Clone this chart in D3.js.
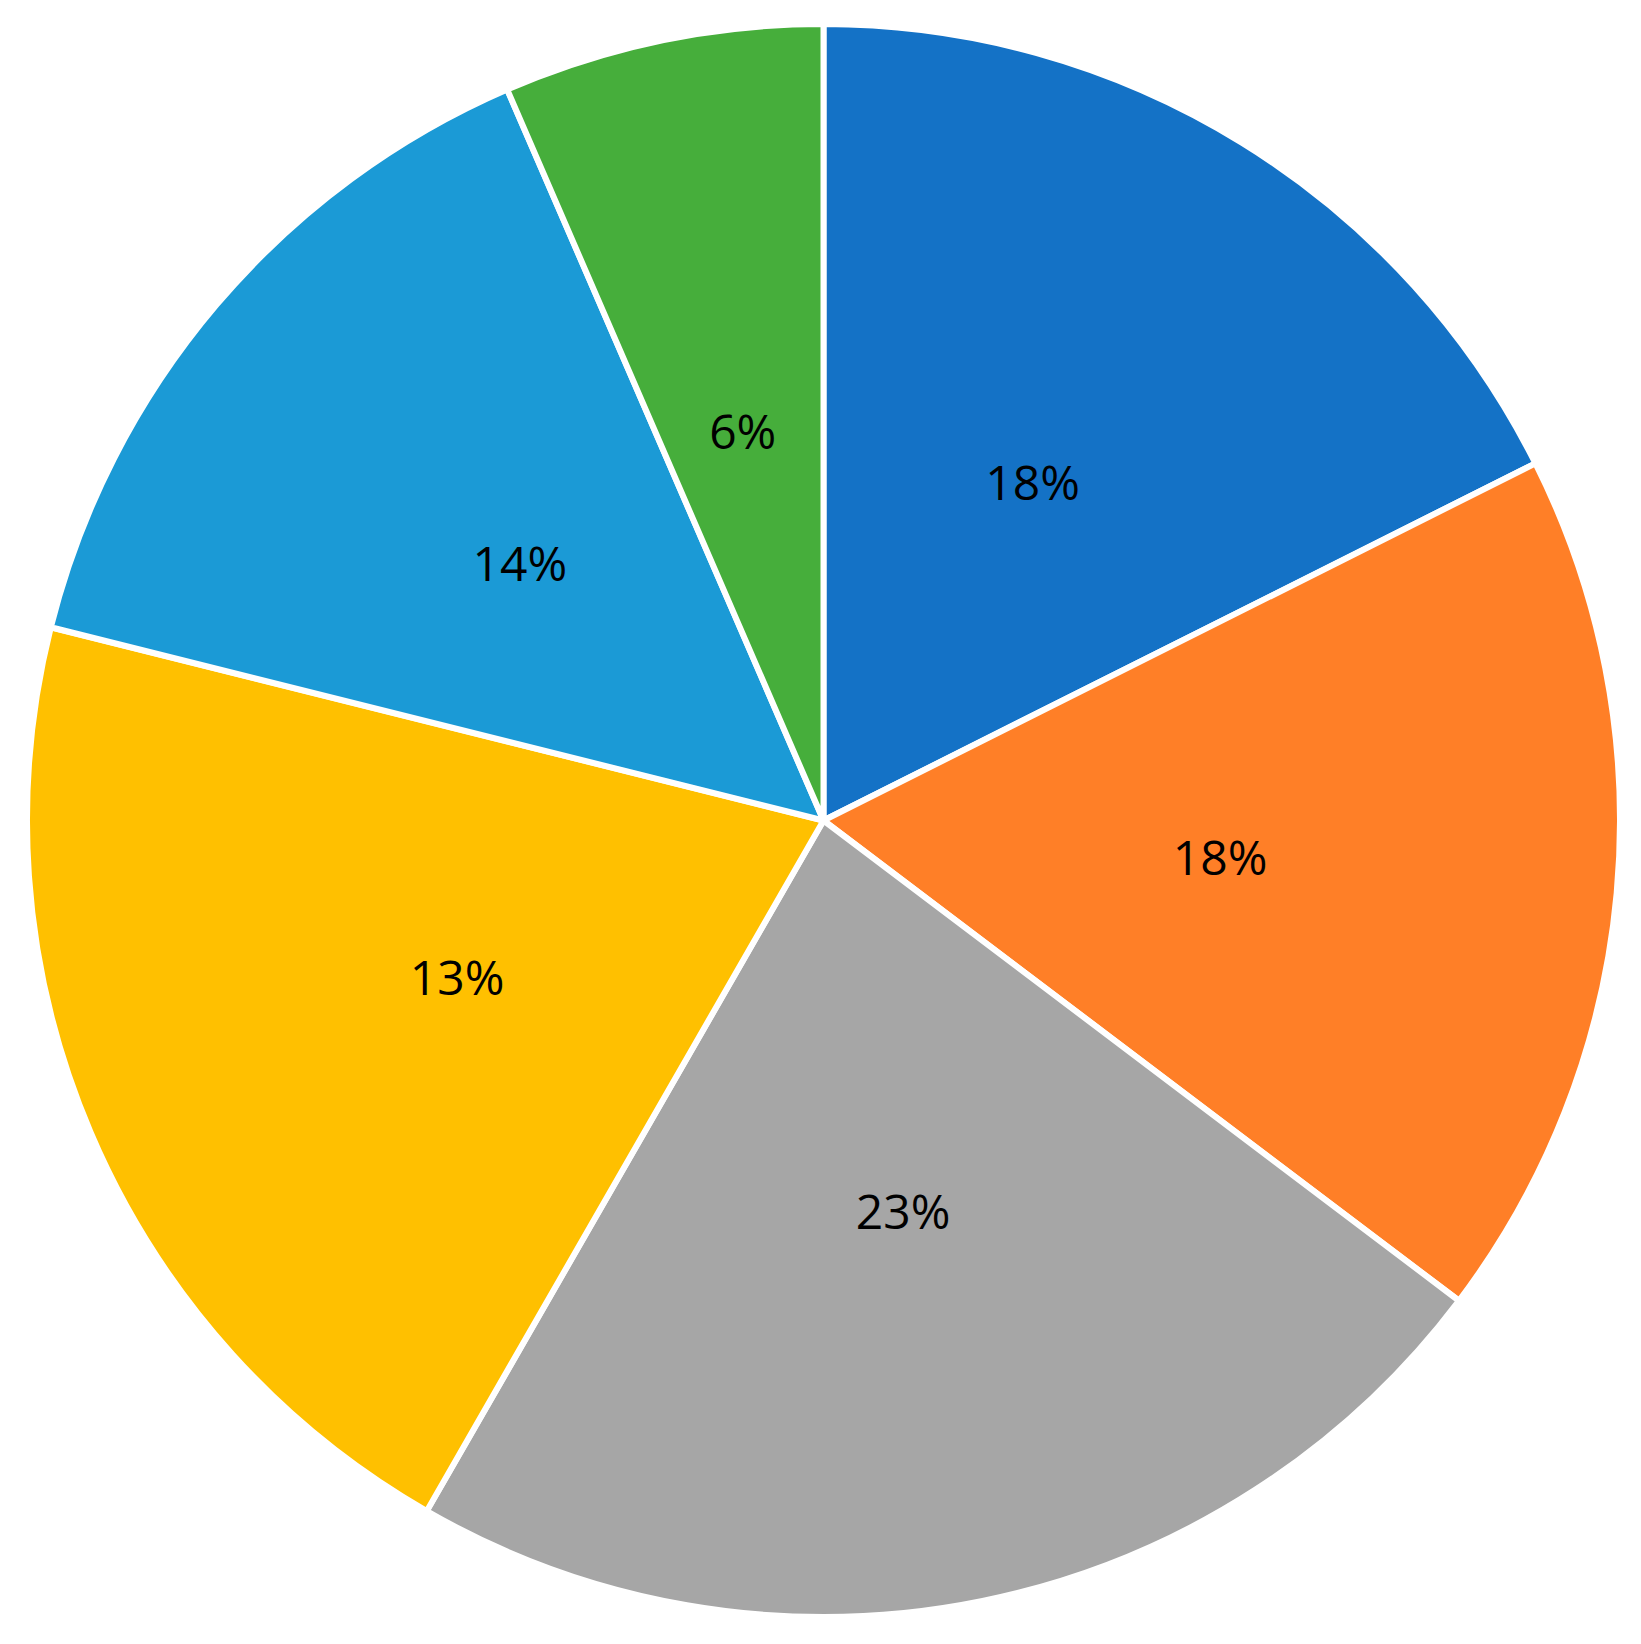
<!DOCTYPE html>
<html>
<head>
<meta charset="utf-8">
<script src="https://cdn.jsdelivr.net/npm/d3@7"></script>
<style>
  html, body { margin: 0; padding: 0; background: #ffffff; }
  svg { display: block; }
</style>
</head>
<body>
<svg id="chart" width="1641" height="1644"></svg>
<script>
// Slice shares as drawn (angle shares)
const categories = ["A", "B", "C", "D", "E", "F"];
const values = [17.6, 17.7, 23.0, 20.6, 14.6, 6.5];
// Printed data labels as shown in the reference
const labels = ["18%", "18%", "23%", "13%", "14%", "6%"];
const colors = ["#1472C6", "#FF7F27", "#A6A6A6", "#FFC000", "#1B9AD6", "#46AE3B"];

const W = 1641, H = 1644;
const cx = 823.5, cy = 820.5, R = 796.5;

const svg = d3.select("#chart");
const g = svg.append("g").attr("transform", `translate(${cx},${cy})`);

const data = categories.map((c, i) => ({ cat: c, value: values[i], label: labels[i], color: colors[i] }));

const pie = d3.pie().sort(null).value(d => d.value);
const arcs = pie(data);

const arc = d3.arc().innerRadius(0).outerRadius(R);
const labelArc = d3.arc().innerRadius(R * 0.5).outerRadius(R * 0.5);

g.selectAll("path.slice")
  .data(arcs)
  .enter().append("path")
  .attr("class", "slice")
  .attr("d", arc)
  .attr("fill", d => d.data.color)
  .attr("stroke", "#ffffff")
  .attr("stroke-width", 6)
  .attr("stroke-linejoin", "round");

g.selectAll("text.lbl")
  .data(arcs)
  .enter().append("text")
  .attr("class", "lbl")
  .attr("transform", d => `translate(${labelArc.centroid(d)})`)
  .attr("text-anchor", "middle")
  .attr("dominant-baseline", "central")
  .attr("font-family", "'Open Sans', 'Noto Sans', sans-serif")
  .attr("font-size", 48)
  .attr("font-weight", 500)
  .attr("fill", "#000000")
  .text(d => d.data.label);
</script>
</body>
</html>
